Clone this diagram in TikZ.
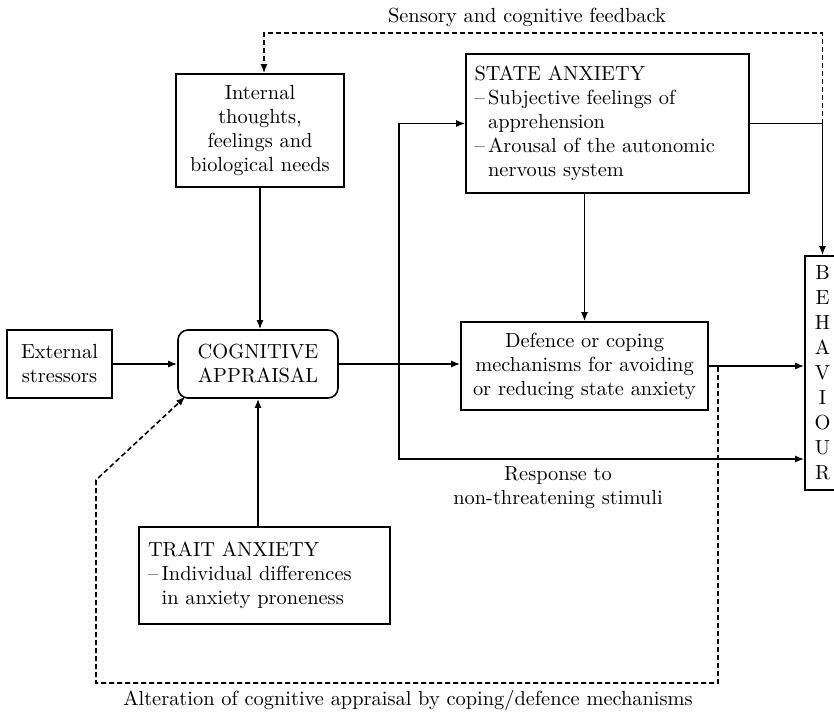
\documentclass[tikz,border=0pt]{standalone}
\usepackage{tikz}
\usetikzlibrary{arrows.meta,positioning,calc}
\tikzset{
  box/.style={draw,line width=0.8pt,inner sep=0pt,align=center},
  rbox/.style={box,rounded corners=5pt},
  lnk/.style={line width=0.8pt,-{Latex[length=4.5pt,width=3.5pt]}},
  fbk/.style={lnk,dash pattern=on 2.5pt off 1.5pt},
}
\begin{document}
\begin{tikzpicture}[x=0.5pt,y=-0.5pt,font=\fontsize{10.2}{12}\selectfont]
\useasboundingbox (0,0) rectangle (834,713);
\node[box,minimum width=52.5pt,minimum height=34pt] (ext) at (59.5,364) {External\\stressors};
\node[rbox,minimum width=80pt,minimum height=34pt] (cog) at (258,364) {COGNITIVE\\APPRAISAL};
\node[box,minimum width=84pt,minimum height=56.5pt] (inner) at (260,130.5) {Internal\\thoughts,\\feelings and\\biological needs};
\node[box,minimum width=141.5pt,minimum height=69.5pt,align=left,text width=133pt] (state) at (607.5,123.5)
  {STATE ANXIETY\\\mbox{--}\,Subjective feelings of\\\hphantom{--\,}apprehension\\\mbox{--}\,Arousal of the autonomic\\\hphantom{--\,}nervous system};
\node[box,minimum width=123.5pt,minimum height=44pt] (def) at (584.5,366) {Defence or coping\\mechanisms for avoiding\\or reducing state anxiety};
\node[box,minimum width=125.5pt,minimum height=48.5pt,align=left,text width=116.5pt] (trait) at (264.5,575.5)
  {TRAIT ANXIETY\\\mbox{--}\,Individual differences\\\hphantom{--\,}in anxiety proneness};
\node[box,minimum width=17.5pt,minimum height=117pt,font=\fontsize{10.2}{12.5}\selectfont] (beh) at (822.5,373) {B\\E\\H\\A\\V\\I\\O\\U\\R};
\node (fbl) at (527,17) {Sensory and cognitive feedback};
\node (altl) at (408,700) {Alteration of cognitive appraisal by coping/defence mechanisms};
\node[align=center] (respl) at (558,488) {Response to\\non-threatening stimuli};
\coordinate (sp) at (399,364);
\coordinate (resp) at (399,459);
\coordinate (fbtop) at (0,33);
\coordinate (altR) at (718,367);
\coordinate (altB) at (718,683);
\coordinate (altL) at (96,683);
\coordinate (altK) at (96,480);
\draw[lnk] (ext.east) -- (ext.east -| cog.west);
\draw[lnk] (inner.south) -- (inner.south |- cog.north);
\draw[lnk] (cog.south |- trait.north) -- (cog.south);
\draw[lnk] (cog.east) -- (cog.east -| def.west);
\draw[lnk] (def.north |- state.south) -- (def.north);
\draw[lnk] (def.east) -- (def.east -| beh.west);
\draw[lnk] (sp) |- (state.west);
\draw[lnk] (sp) -- (resp) -- (resp -| beh.west);
\draw[lnk] (state.east) -| (beh.north);
\draw[fbk] (beh.north |- state.east) -- (beh.north |- fbtop) -- ([xshift=2pt]inner.north |- fbtop) -- ([xshift=2pt]inner.north);
\draw[fbk] (altR) -- (altB) -- (altL) -- (altK) -- ([xshift=4pt,yshift=1pt]cog.south west);
\end{tikzpicture}
\end{document}
